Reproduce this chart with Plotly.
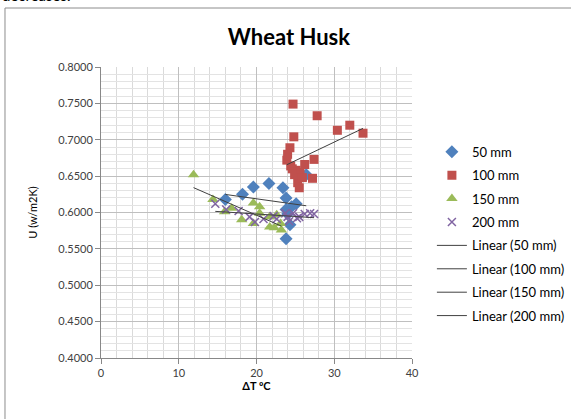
import numpy as np
import plotly.graph_objects as go

# data
x_50 = [16.0, 18.2, 19.6, 21.6, 23.4, 23.8, 25.1, 24.5, 23.8, 24.3, 23.8, 26.4, 24.0]
u_50 = [0.618, 0.625, 0.635, 0.640, 0.634, 0.620, 0.612, 0.608, 0.604, 0.583, 0.564, 0.652, 0.598]

x_100 = [24.7, 27.8, 30.4, 32.0, 33.7, 24.8, 24.3, 24.0, 23.9, 27.4, 24.4, 25.1,
         25.6, 27.2, 25.3, 25.5, 24.9, 25.9, 26.2, 24.6]
u_100 = [0.749, 0.733, 0.713, 0.720, 0.709, 0.704, 0.689, 0.680, 0.672, 0.673, 0.664, 0.658,
         0.655, 0.647, 0.641, 0.634, 0.652, 0.648, 0.666, 0.660]

x_150 = [11.9, 14.4, 15.9, 16.8, 18.1, 19.6, 19.6, 20.4, 20.4, 21.7, 21.7, 22.6, 22.3, 23.2, 23.1]
u_150 = [0.652, 0.618, 0.601, 0.606, 0.590, 0.613, 0.585, 0.608, 0.599, 0.594, 0.580, 0.597,
         0.579, 0.576, 0.585]

x_200 = [14.7, 16.1, 17.7, 19.1, 19.8, 20.9, 22.2, 23.7, 24.0, 24.7, 25.5, 26.2, 26.9, 27.4,
         24.2, 22.6, 25.2]
u_200 = [0.612, 0.604, 0.602, 0.594, 0.587, 0.591, 0.595, 0.599, 0.594, 0.599, 0.594, 0.598,
         0.599, 0.598, 0.588, 0.591, 0.592]

y_ticks = [0.40, 0.45, 0.50, 0.55, 0.60, 0.65, 0.70, 0.75, 0.80]
x_ticks = [0, 10, 20, 30, 40]

font = "Lato, 'Open Sans', sans-serif"

series = [
    ("50 mm", x_50, u_50, "#4F81BD", "diamond", 10),
    ("100 mm", x_100, u_100, "#C0504D", "square", 9),
    ("150 mm", x_150, u_150, "#9BBB59", "triangle-up", 10),
    ("200 mm", x_200, u_200, "#8064A2", "x-thin", 8),
]

fig = go.Figure()

for name, xs, us, col, sym, sz in series:
    mk = dict(color=col, symbol=sym, size=sz)
    if sym == "x-thin":
        mk["line"] = dict(color=col, width=1.5)
    fig.add_trace(go.Scatter(x=xs, y=us, mode="markers", name=name, marker=mk,
                             legendgroup=name))

# linear trend lines
for name, xs, us, col, sym, sz in series:
    a, b = np.polyfit(xs, us, 1)
    xx = np.array([min(xs), max(xs)])
    fig.add_trace(go.Scatter(x=xx, y=a * xx + b, mode="lines",
                             name="Linear (%s)" % name, legendgroup="lin" + name,
                             line=dict(color="#404040", width=1)))

fig.update_layout(
    width=571, height=419,
    margin=dict(l=101, r=159, t=67, b=61, autoexpand=False),
    paper_bgcolor="white", plot_bgcolor="white",
    font=dict(family=font, size=11, color="#404040"),
    title=dict(text="<b>Wheat Husk</b>", x=0.506, xanchor="center", y=0.912, yanchor="middle",
               font=dict(family=font, size=22, color="black")),
    legend=dict(x=1.064, y=0.76, xanchor="left", yanchor="top", tracegroupgap=3.5,
                font=dict(family=font, size=13, color="black"), itemwidth=30),
    showlegend=True,
)

fig.update_xaxes(
    range=[0, 40], tickvals=x_ticks, ticks="outside", ticklen=5, tickcolor="#888",
    showline=True, linecolor="#888", linewidth=1, automargin=False,
    showgrid=True, gridcolor="#bfbfbf", gridwidth=1, zeroline=False,
    minor=dict(dtick=2, showgrid=True, gridcolor="#dadada"),
    title=dict(text="<b>ΔT ºC</b>", font=dict(family=font, size=11, color="black"), standoff=3),
)
fig.update_yaxes(
    range=[0.4, 0.8], tickvals=y_ticks, tickformat=".4f", ticks="outside", ticklen=5,
    tickcolor="#888", showline=True, linecolor="#888", linewidth=1, automargin=False,
    showgrid=True, gridcolor="#bfbfbf", gridwidth=1, zeroline=False,
    minor=dict(dtick=0.01, showgrid=True, gridcolor="#e3e3e3"),
    title=dict(text="U (w/m2K)", font=dict(family=font, size=11, color="black"), standoff=18),
)

# chart outer border
fig.add_shape(type="rect", xref="paper", yref="paper",
              x0=-0.3087, x1=1.53, y0=-0.25, y1=1.2027,
              line=dict(color="#8c8c8c", width=1))

# text cut off above the chart
fig.add_annotation(text="decreases.", xref="paper", yref="paper", x=-0.325, y=1.208,
                   xanchor="left", yanchor="bottom", showarrow=False,
                   font=dict(family=font, size=15, color="black"))

fig.write_html("out.html", config={"displayModeBar": False},
               post_script="document.body.style.margin='0';document.body.style.overflow='hidden';")
